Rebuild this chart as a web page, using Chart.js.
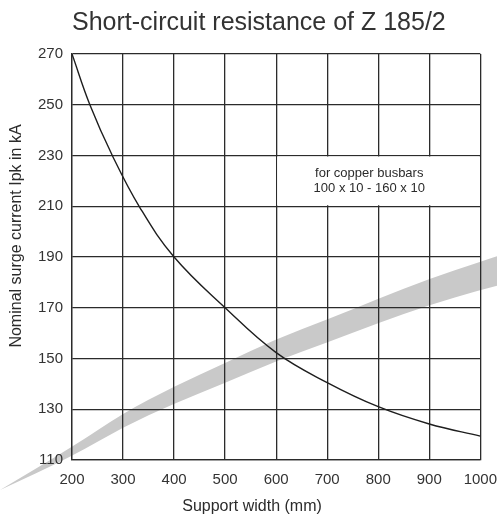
<!DOCTYPE html>
<html>
<head>
<meta charset="utf-8">
<script src="https://cdn.jsdelivr.net/npm/chart.js@4/dist/chart.umd.min.js"></script>
<style>
  html, body { margin: 0; padding: 0; background: #fff; }
  #wrap { width: 497px; height: 517px; position: relative; }
</style>
</head>
<body>
<div id="wrap"><canvas id="chart"></canvas></div>
<script>
// Curve: support width (mm) -> nominal surge current Ipk (kA)
const widthMm = [200, 235, 279, 333, 400, 500, 600, 700, 800, 900, 1000];
const surgeKa = [270, 250, 230, 209.5, 190, 170, 152.3, 140.5, 131, 124.2, 119.4];

// Grey decorative swoosh, edges given in axis units
const bandX = [59, 200, 300, 400, 500, 600, 700, 800, 900, 1000, 1050];
const bandTop = [98.2, 114.9, 128.5, 139.0, 148.2, 157.7, 165.4, 173.5, 181.4, 188.1, 191.5];
const bandBottom = [98.2, 111.4, 123.0, 132.3, 140.4, 149.0, 156.3, 164.0, 171.1, 177.0, 179.5];

// Note box (sits in the 210-230 row)
const noteRange = { x: [600, 1000], y: [210, 230] };
const noteLines = ['for copper busbars', '100 x 10 - 160 x 10'];

const xTicks = [200, 300, 400, 500, 600, 700, 800, 900, 1000];
const yTicks = [110, 130, 150, 170, 190, 210, 230, 250, 270];

const chartTitle = 'Short-circuit resistance of Z 185/2';
const xTitle = 'Support width (mm)';
const yTitle = 'Nominal surge current Ipk in kA';

const ink = '#2b2b2b';
const font = '"Liberation Sans", Arial, sans-serif';

// smooth path through points (midpoint quadratics)
function smoothTo(ctx, pts, first) {
    if (first) ctx.moveTo(pts[0][0], pts[0][1]); else ctx.lineTo(pts[0][0], pts[0][1]);
    for (let i = 1; i < pts.length - 1; i++) {
        const mx = (pts[i][0] + pts[i + 1][0]) / 2, my = (pts[i][1] + pts[i + 1][1]) / 2;
        ctx.quadraticCurveTo(pts[i][0], pts[i][1], mx, my);
    }
    const last = pts[pts.length - 1];
    ctx.lineTo(last[0], last[1]);
}

const swooshPlugin = {
    id: 'swoosh',
    beforeDraw(chart) {
        const { ctx, scales: { x, y } } = chart;
        const top = bandX.map((v, i) => [x.getPixelForValue(v), y.getPixelForValue(bandTop[i])]);
        const bottom = bandX.map((v, i) => [x.getPixelForValue(v), y.getPixelForValue(bandBottom[i])]).reverse();
        ctx.save();
        ctx.fillStyle = '#c9c9c9';
        ctx.beginPath();
        smoothTo(ctx, top, true);
        smoothTo(ctx, bottom, false);
        ctx.closePath();
        ctx.fill();
        ctx.restore();
    }
};

const notePlugin = {
    id: 'note',
    beforeDatasetsDraw(chart) {
        const { ctx, scales: { x, y } } = chart;
        const l = x.getPixelForValue(noteRange.x[0]) + 1;
        const r = x.getPixelForValue(noteRange.x[1]) - 1;
        const t = y.getPixelForValue(noteRange.y[1]) + 1;
        const b = y.getPixelForValue(noteRange.y[0]) - 1;
        ctx.save();
        ctx.fillStyle = '#fff';
        ctx.fillRect(l, t, r - l, b - t);
        ctx.fillStyle = ink;
        ctx.font = '13px ' + font;
        ctx.textAlign = 'center';
        ctx.textBaseline = 'middle';
        const cx = (l + r) / 2 - 9, cy = (t + b) / 2;
        ctx.fillText(noteLines[0], cx, cy - 7.5);
        ctx.fillText(noteLines[1], cx, cy + 7.5);
        ctx.restore();
    }
};

// axis titles sit a little off-centre in the original, so they are placed by hand
const axisTitlePlugin = {
    id: 'axisTitles',
    afterDraw(chart) {
        const { ctx } = chart;
        ctx.save();
        ctx.fillStyle = ink;
        ctx.font = '16px ' + font;
        ctx.textAlign = 'center';
        ctx.textBaseline = 'middle';
        ctx.fillText(xTitle, 252, 507);
        ctx.translate(17, 236);
        ctx.rotate(-Math.PI / 2);
        ctx.fillText(yTitle, 0, 0);
        ctx.restore();
    }
};

new Chart(document.getElementById('chart'), {
    type: 'line',
    data: {
        datasets: [{
            data: widthMm.map((w, i) => ({ x: w, y: surgeKa[i] })),
            borderColor: '#1e1e1e',
            borderWidth: 1.4,
            pointRadius: 0,
            tension: 0.4,
            fill: false
        }]
    },
    options: {
        responsive: true,
        maintainAspectRatio: false,
        animation: false,
        layout: { padding: { right: 16 } },
        plugins: {
            legend: { display: false },
            tooltip: { enabled: false },
            title: {
                display: true,
                text: chartTitle,
                fullSize: false,
                align: 'start',
                color: '#333',
                font: { family: font, size: 25, weight: 'normal' },
                padding: { top: 8, bottom: 16 }
            }
        },
        scales: {
            x: {
                type: 'linear',
                min: 200,
                max: 1000,
                afterBuildTicks: s => { s.ticks = xTicks.map(v => ({ value: v })); },
                afterFit: s => { s.height = 57; },
                grid: { color: ink, lineWidth: 1.3, drawTicks: false },
                border: { color: ink, width: 1.3 },
                ticks: {
                    // padding 0 keeps the right gap small; the tall line height drops the labels
                    color: '#333', padding: 0, maxRotation: 0,
                    font: { family: font, size: 15, lineHeight: 2.667 },
                    callback: v => String(v)
                }
            },
            y: {
                min: 110,
                max: 270,
                afterBuildTicks: s => { s.ticks = yTicks.map(v => ({ value: v })); },
                afterFit: s => { s.width = 72; },
                grid: { color: ink, lineWidth: 1.3, drawTicks: false },
                border: { color: ink, width: 1.3 },
                ticks: {
                    color: '#333', padding: 9,
                    font: { family: font, size: 15 },
                    callback: v => String(v)
                }
            }
        }
    },
    plugins: [swooshPlugin, notePlugin, axisTitlePlugin]
});
</script>
</body>
</html>
